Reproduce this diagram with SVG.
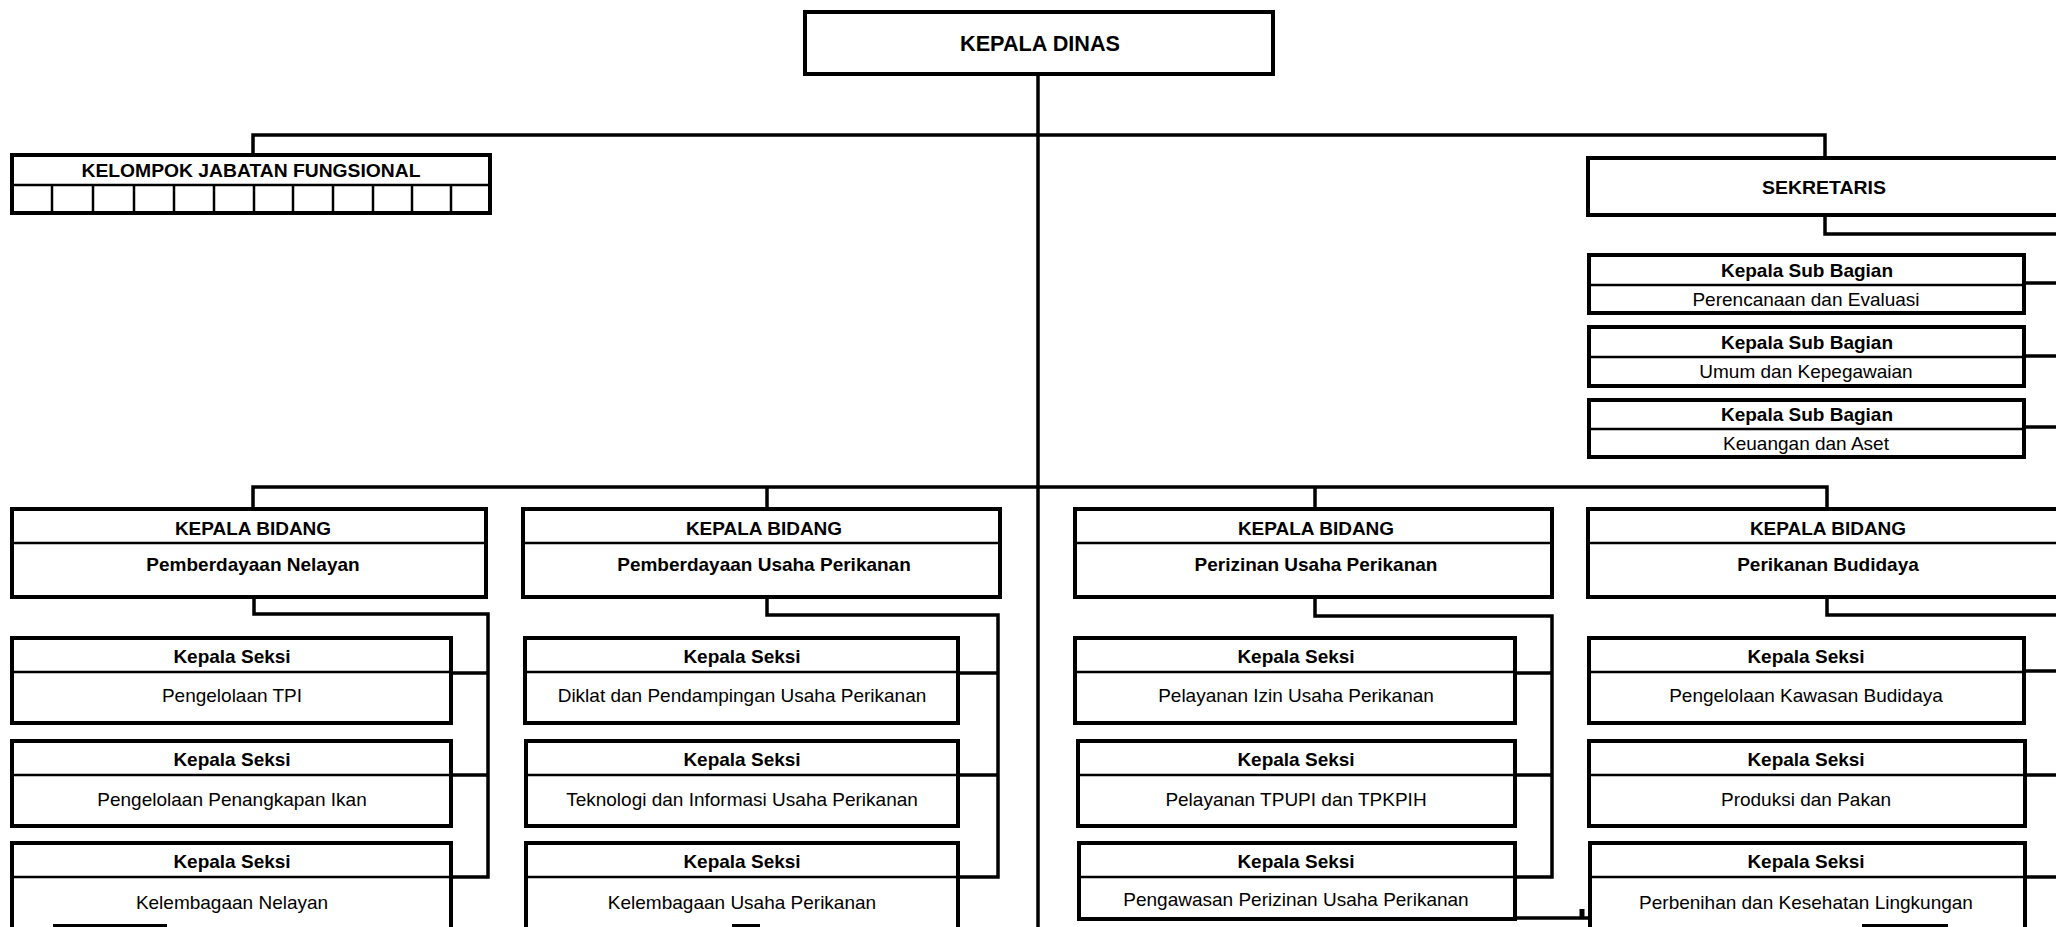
<svg xmlns="http://www.w3.org/2000/svg" width="2056" height="927" viewBox="0 0 2056 927">
  <style>
    .box { fill: #fff; stroke: #000; stroke-width: 4; }
    .div { stroke: #000; stroke-width: 2.5; fill: none; }
    .conn { fill: none; stroke: #000; stroke-width: 3.5; }
    .edge { stroke: #000; stroke-width: 3; }
    text { font-family: "Liberation Sans", Arial, sans-serif; fill: #000; text-anchor: middle; }
    .h { font-size: 19px; font-weight: bold; }
    .d { font-size: 19px; }
    .big { font-size: 22px; font-weight: bold; }
  </style>
  <rect width="2056" height="927" fill="#fff"/>

  <!-- connectors -->
  <g id="connectors" class="conn">
    <!-- spine from the head of office -->
    <path d="M1038 74 V927"/>
    <!-- upper bus: functional group and secretary -->
    <path d="M253 155 V135 H1825 V158"/>
    <!-- secretary to sub-sections -->
    <path d="M1825 215 V234 H2056"/>
    <path d="M2024 283 H2056"/>
    <path d="M2024 356 H2056"/>
    <path d="M2024 427 H2056"/>
    <!-- lower bus: division heads -->
    <path d="M253 509 V487 H1827 V509"/>
    <path d="M767 487 V509"/>
    <path d="M1315 487 V509"/>
    <!-- division 1 sections -->
    <path d="M254 597 V614 H488 V877 H451"/>
    <path d="M451 673 H488"/>
    <path d="M451 775 H488"/>
    <!-- division 2 sections -->
    <path d="M767 597 V615 H998 V877 H958"/>
    <path d="M958 673 H998"/>
    <path d="M958 775 H998"/>
    <!-- division 3 sections -->
    <path d="M1315 597 V616 H1552 V877 H1515"/>
    <path d="M1515 673 H1552"/>
    <path d="M1515 775 H1552"/>
    <!-- division 4 sections -->
    <path d="M1827 597 V615 H2056"/>
    <path d="M2024 671 H2056"/>
    <path d="M2024 775 H2056"/>
    <path d="M2024 877 H2056"/>
    <!-- stub at the foot between divisions 3 and 4 -->
    <path d="M1515 918 H1592"/>
    <path d="M1582 918 V909" stroke-width="5"/>
  </g>

  <!-- head of office -->
  <g id="kepala-dinas">
    <rect class="box" x="805" y="12" width="468" height="62"/>
    <text class="big" x="1040" y="51" textLength="160" lengthAdjust="spacingAndGlyphs">KEPALA DINAS</text>
  </g>

  <!-- functional group -->
  <g id="kelompok-jabatan-fungsional">
    <rect class="box" x="12" y="155" width="478" height="58"/>
    <path class="div" d="M12 185 H490 M52 185 V213 M93 185 V213 M134 185 V213 M174 185 V213 M214 185 V213 M254 185 V213 M293 185 V213 M333 185 V213 M373 185 V213 M412 185 V213 M451 185 V213"/>
    <text class="h" x="251" y="177" font-size="21" textLength="339" lengthAdjust="spacingAndGlyphs">KELOMPOK JABATAN FUNGSIONAL</text>
  </g>

  <!-- secretary -->
  <g id="sekretaris">
    <rect class="box" x="1588" y="158" width="500" height="57"/>
    <text class="h" x="1824" y="194" font-size="21" textLength="124" lengthAdjust="spacingAndGlyphs">SEKRETARIS</text>
  </g>

  <g id="subbag-perencanaan">
    <rect class="box" x="1589" y="255" width="435" height="58"/>
    <line class="div" x1="1589" y1="285" x2="2024" y2="285"/>
    <text class="h" x="1807" y="277">Kepala Sub Bagian</text>
    <text class="d" x="1806" y="306">Perencanaan dan Evaluasi</text>
  </g>
  <g id="subbag-umum">
    <rect class="box" x="1589" y="327" width="435" height="59"/>
    <line class="div" x1="1589" y1="357" x2="2024" y2="357"/>
    <text class="h" x="1807" y="349">Kepala Sub Bagian</text>
    <text class="d" x="1806" y="378">Umum dan Kepegawaian</text>
  </g>
  <g id="subbag-keuangan">
    <rect class="box" x="1589" y="400" width="435" height="57"/>
    <line class="div" x1="1589" y1="429" x2="2024" y2="429"/>
    <text class="h" x="1807" y="421">Kepala Sub Bagian</text>
    <text class="d" x="1806" y="450">Keuangan dan Aset</text>
  </g>

  <!-- division 1 -->
  <g id="bidang-pemberdayaan-nelayan">
    <rect class="box" x="12" y="509" width="474" height="88"/>
    <line class="div" x1="12" y1="543" x2="486" y2="543"/>
    <text class="h" x="253" y="535">KEPALA BIDANG</text>
    <text class="h" x="253" y="571">Pemberdayaan Nelayan</text>
  </g>
  <g id="seksi-pengelolaan-tpi">
    <rect class="box" x="12" y="638" width="439" height="85"/>
    <line class="div" x1="12" y1="672" x2="451" y2="672"/>
    <text class="h" x="232" y="663">Kepala Seksi</text>
    <text class="d" x="232" y="702">Pengelolaan TPI</text>
  </g>
  <g id="seksi-penangkapan-ikan">
    <rect class="box" x="12" y="741" width="439" height="85"/>
    <line class="div" x1="12" y1="775" x2="451" y2="775"/>
    <text class="h" x="232" y="766">Kepala Seksi</text>
    <text class="d" x="232" y="806">Pengelolaan Penangkapan Ikan</text>
  </g>
  <g id="seksi-kelembagaan-nelayan">
    <rect class="box" x="12" y="843" width="439" height="89"/>
    <line class="div" x1="12" y1="877" x2="451" y2="877"/>
    <line class="edge" x1="53" y1="925.5" x2="167" y2="925.5"/>
    <text class="h" x="232" y="868">Kepala Seksi</text>
    <text class="d" x="232" y="909">Kelembagaan Nelayan</text>
  </g>

  <!-- division 2 -->
  <g id="bidang-pemberdayaan-usaha">
    <rect class="box" x="523" y="509" width="477" height="88"/>
    <line class="div" x1="523" y1="543" x2="1000" y2="543"/>
    <text class="h" x="764" y="535">KEPALA BIDANG</text>
    <text class="h" x="764" y="571">Pemberdayaan Usaha Perikanan</text>
  </g>
  <g id="seksi-diklat">
    <rect class="box" x="525" y="638" width="433" height="85"/>
    <line class="div" x1="525" y1="672" x2="958" y2="672"/>
    <text class="h" x="742" y="663">Kepala Seksi</text>
    <text class="d" x="742" y="702">Diklat dan Pendampingan Usaha Perikanan</text>
  </g>
  <g id="seksi-teknologi">
    <rect class="box" x="526" y="741" width="432" height="85"/>
    <line class="div" x1="526" y1="775" x2="958" y2="775"/>
    <text class="h" x="742" y="766">Kepala Seksi</text>
    <text class="d" x="742" y="806">Teknologi dan Informasi Usaha Perikanan</text>
  </g>
  <g id="seksi-kelembagaan-usaha">
    <rect class="box" x="526" y="843" width="432" height="89"/>
    <line class="div" x1="526" y1="877" x2="958" y2="877"/>
    <line class="edge" x1="732" y1="925.5" x2="760" y2="925.5"/>
    <text class="h" x="742" y="868">Kepala Seksi</text>
    <text class="d" x="742" y="909">Kelembagaan Usaha Perikanan</text>
  </g>

  <!-- division 3 -->
  <g id="bidang-perizinan">
    <rect class="box" x="1075" y="509" width="477" height="88"/>
    <line class="div" x1="1075" y1="543" x2="1552" y2="543"/>
    <text class="h" x="1316" y="535">KEPALA BIDANG</text>
    <text class="h" x="1316" y="571">Perizinan Usaha Perikanan</text>
  </g>
  <g id="seksi-pelayanan-izin">
    <rect class="box" x="1075" y="638" width="440" height="85"/>
    <line class="div" x1="1075" y1="672" x2="1515" y2="672"/>
    <text class="h" x="1296" y="663">Kepala Seksi</text>
    <text class="d" x="1296" y="702">Pelayanan Izin Usaha Perikanan</text>
  </g>
  <g id="seksi-tpupi">
    <rect class="box" x="1078" y="741" width="437" height="85"/>
    <line class="div" x1="1078" y1="775" x2="1515" y2="775"/>
    <text class="h" x="1296" y="766">Kepala Seksi</text>
    <text class="d" x="1296" y="806">Pelayanan TPUPI dan TPKPIH</text>
  </g>
  <g id="seksi-pengawasan">
    <rect class="box" x="1079" y="843" width="436" height="76"/>
    <line class="div" x1="1079" y1="877" x2="1515" y2="877"/>
    <text class="h" x="1296" y="868">Kepala Seksi</text>
    <text class="d" x="1296" y="906">Pengawasan Perizinan Usaha Perikanan</text>
  </g>

  <!-- division 4 -->
  <g id="bidang-budidaya">
    <rect class="box" x="1588" y="509" width="500" height="88"/>
    <line class="div" x1="1588" y1="543" x2="2056" y2="543"/>
    <text class="h" x="1828" y="535">KEPALA BIDANG</text>
    <text class="h" x="1828" y="571">Perikanan Budidaya</text>
  </g>
  <g id="seksi-kawasan">
    <rect class="box" x="1589" y="638" width="435" height="85"/>
    <line class="div" x1="1589" y1="672" x2="2024" y2="672"/>
    <text class="h" x="1806" y="663">Kepala Seksi</text>
    <text class="d" x="1806" y="702">Pengelolaan Kawasan Budidaya</text>
  </g>
  <g id="seksi-produksi">
    <rect class="box" x="1589" y="741" width="436" height="85"/>
    <line class="div" x1="1589" y1="775" x2="2025" y2="775"/>
    <text class="h" x="1806" y="766">Kepala Seksi</text>
    <text class="d" x="1806" y="806">Produksi dan Pakan</text>
  </g>
  <g id="seksi-perbenihan">
    <rect class="box" x="1590" y="843" width="435" height="89"/>
    <line class="div" x1="1590" y1="877" x2="2025" y2="877"/>
    <line class="edge" x1="1862" y1="925.5" x2="1948" y2="925.5"/>
    <text class="h" x="1806" y="868">Kepala Seksi</text>
    <text class="d" x="1806" y="909">Perbenihan dan Kesehatan Lingkungan</text>
  </g>
</svg>
